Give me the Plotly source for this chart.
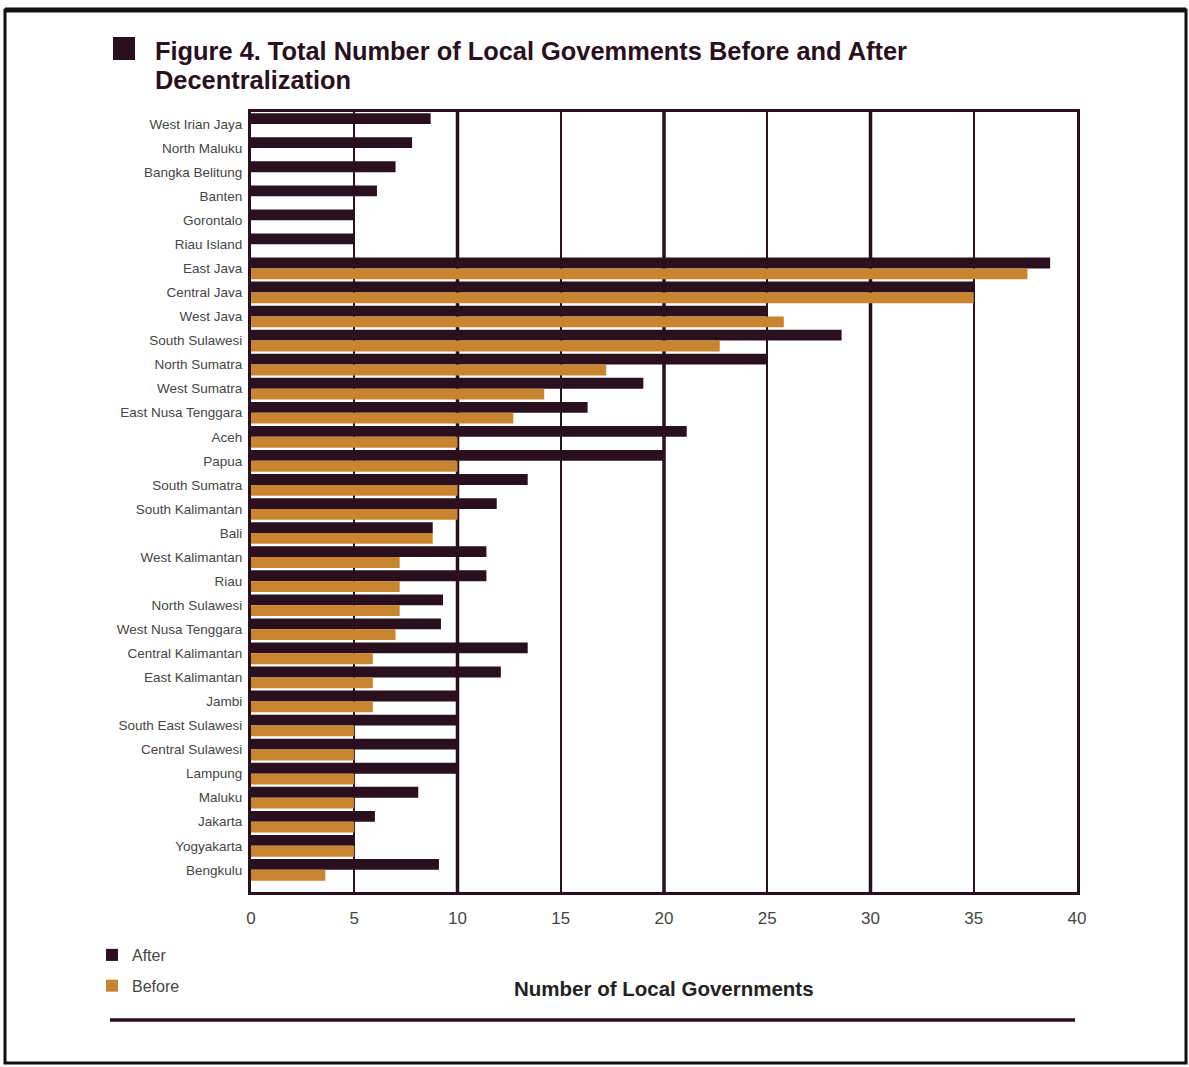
import plotly.graph_objects as go

provinces = [
    "West Irian Jaya", "North Maluku", "Bangka Belitung", "Banten", "Gorontalo",
    "Riau Island", "East Java", "Central Java", "West Java", "South Sulawesi",
    "North Sumatra", "West Sumatra", "East Nusa Tenggara", "Aceh", "Papua",
    "South Sumatra", "South Kalimantan", "Bali", "West Kalimantan", "Riau",
    "North Sulawesi", "West Nusa Tenggara", "Central Kalimantan", "East Kalimantan",
    "Jambi", "South East Sulawesi", "Central Sulawesi", "Lampung", "Maluku",
    "Jakarta", "Yogyakarta", "Bengkulu",
]
after = [8.7, 7.8, 7.0, 6.1, 5.0, 5.0, 38.7, 35.0, 25.0, 28.6,
         25.0, 19.0, 16.3, 21.1, 20.0, 13.4, 11.9, 8.8, 11.4, 11.4,
         9.3, 9.2, 13.4, 12.1, 10.0, 10.0, 10.0, 10.0, 8.1, 6.0, 5.0, 9.1]
before = [None, None, None, None, None, None, 37.6, 35.0, 25.8, 22.7,
          17.2, 14.2, 12.7, 10.0, 10.0, 10.0, 10.0, 8.8, 7.2, 7.2,
          7.2, 7.0, 5.9, 5.9, 5.9, 5.0, 5.0, 5.0, 5.0, 5.0, 5.0, 3.6]
x_ticks = [0, 5, 10, 15, 20, 25, 30, 35, 40]
major_grid = [10, 20, 30]
title_lines = ["Figure 4. Total Number of Local Govemments Before and After",
               "Decentralization"]

DARK = "#2a0f1f"
ORANGE = "#c8842f"
TEXT = "#454545"

W, H = 1189, 1067
L, R, T, B = 251, 1077, 112, 892
pw, ph = R - L, B - T


def px(x):
    return (x - L) / pw


def py(y):
    return (B - y) / ph


fig = go.Figure()
fig.add_trace(go.Bar(y=provinces, x=after, orientation="h", name="After",
                     marker=dict(color=DARK, line=dict(width=0)), legendgroup="a"))
fig.add_trace(go.Bar(y=provinces, x=before, orientation="h", name="Before",
                     marker=dict(color=ORANGE, line=dict(width=0)), legendgroup="b"))

shapes = []
for g in major_grid:
    shapes.append(dict(type="line", xref="x", yref="paper", x0=g, x1=g, y0=0, y1=1,
                       line=dict(color=DARK, width=3.5), layer="below"))
# title square
shapes.append(dict(type="rect", xref="paper", yref="paper",
                   x0=px(113), x1=px(135), y0=py(60), y1=py(37),
                   fillcolor=DARK, line=dict(width=0)))
# page frame
shapes.append(dict(type="rect", xref="paper", yref="paper",
                   x0=px(5), x1=px(1186), y0=py(1063), y1=py(10),
                   line=dict(color="#111111", width=3)))
shapes.append(dict(type="line", xref="paper", yref="paper",
                   x0=px(5), x1=px(1186), y0=py(10), y1=py(10),
                   line=dict(color="#111111", width=5)))
# bottom rule
shapes.append(dict(type="line", xref="paper", yref="paper",
                   x0=px(110), x1=px(1075), y0=py(1020), y1=py(1020),
                   line=dict(color=DARK, width=3.5)))

annotations = [
    dict(text="<b>%s</b>" % title_lines[0], xref="paper", yref="paper",
         x=px(153), y=py(51), xanchor="left", yanchor="middle", showarrow=False,
         font=dict(size=25.4, color=DARK)),
    dict(text="<b>%s</b>" % title_lines[1], xref="paper", yref="paper",
         x=px(153), y=py(80), xanchor="left", yanchor="middle", showarrow=False,
         font=dict(size=25.4, color=DARK)),
    dict(text="<b>Number of Local Governments</b>", xref="paper", yref="paper",
         x=0.5, y=py(988), xanchor="center", yanchor="middle", showarrow=False,
         font=dict(size=20.5, color="#222222")),
]

fig.update_layout(
    width=W, height=H, autosize=False,
    margin=dict(l=L, r=W - R, t=T, b=H - B),
    paper_bgcolor="white", plot_bgcolor="white",
    barmode="group", bargap=0.1, bargroupgap=0.0,
    font=dict(family="Liberation Sans, Arial, sans-serif", color=TEXT),
    xaxis=dict(range=[0, 40], tickvals=x_ticks, ticktext=[str(v) for v in x_ticks],
               showgrid=True, gridcolor=DARK, gridwidth=2, zeroline=False,
               showline=True, mirror=True, linecolor=DARK, linewidth=3,
               ticks="", tickfont=dict(size=17, color=TEXT), ticklabelstandoff=9),
    yaxis=dict(categoryorder="array", categoryarray=provinces,
               range=[31.92, -0.5], showgrid=False, zeroline=False,
               showline=True, mirror=True, linecolor=DARK, linewidth=3,
               ticks="", tickfont=dict(size=13.5, color=TEXT), ticklabelstandoff=3),
    showlegend=True,
    legend=dict(x=px(92), xanchor="left", y=py(938), yanchor="top",
                font=dict(size=16, color=TEXT), tracegroupgap=7,
                bgcolor="rgba(0,0,0,0)", traceorder="grouped"),
    shapes=shapes,
    annotations=annotations,
)

fig.write_html("out.html", config={"displayModeBar": False},
               post_script="document.body.style.margin='0';")
